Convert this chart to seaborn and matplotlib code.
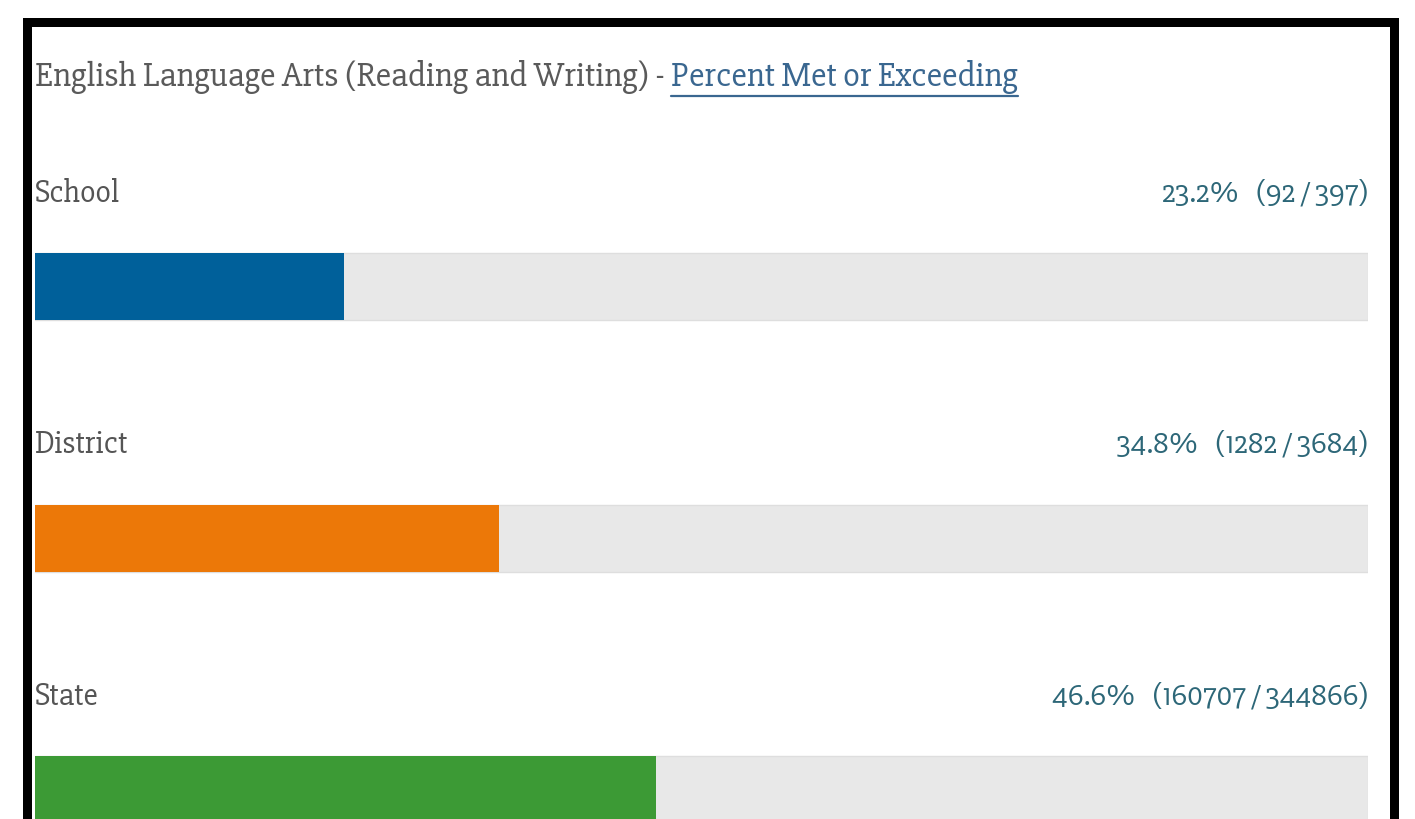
import matplotlib
matplotlib.use("Agg")
import matplotlib.pyplot as plt
from matplotlib.lines import Line2D
import seaborn as sns

# data
groups = ["School", "District", "State"]
percent = [23.2, 34.8, 46.6]
met = [92, 1282, 160707]
tested = [397, 3684, 344866]
bar_colors = ["#00609a", "#ec7808", "#3c9a35"]

title_main = "English Language Arts (Reading and Writing) - "
title_link = "Percent Met or Exceeding"

sns.set_theme(style="white")
plt.rcParams["font.family"] = ["Slabo 27px", "DejaVu Serif"]

W, H = 1415, 820
fig = plt.figure(figsize=(W / 100, H / 100), dpi=100)
ax = fig.add_axes([35 / W, 0, (1368 - 35) / W, 1])

# grey track behind each bar, then the value bars
sns.barplot(x=[100] * len(groups), y=groups, orient="h", color="#e8e8e8",
            edgecolor="#dedede", linewidth=1, width=0.267, ax=ax)
sns.barplot(x=percent, y=groups, hue=groups, palette=bar_colors, orient="h",
            legend=False, width=0.267, saturation=1, linewidth=0, ax=ax)

ax.set_xlim(0, 100)
ax.set_ylim(2.115, -1.143)
ax.axis("off")

for i, g in enumerate(groups):
    ax.text(0, i - 0.375, g, ha="left", va="center", fontsize=23, color="#555555")
    ax.text(100, i - 0.375, f"{percent[i]:.1f}%   ({met[i]} / {tested[i]})",
            ha="right", va="center", fontsize=22, color="#2d6778")

# title with underlined link part
ty = 1 - 77 / H
t1 = fig.text(35 / W, ty, title_main, ha="left", va="center", fontsize=25, color="#5a5a5a")
r = fig.canvas.get_renderer()
x1 = t1.get_window_extent(r).x1
t2 = fig.text(x1 / W, ty, title_link, ha="left", va="center", fontsize=25, color="#3a6790")
bb = t2.get_window_extent(r)
uy = 1 - 97 / H
fig.add_artist(Line2D([bb.x0 / W, bb.x1 / W], [uy, uy], transform=fig.transFigure,
                      color="#3a6790", linewidth=1.6))

# black frame (left, top, right)
lw = 9 * 72 / 100
fx0, fx1, fy = 27 / W, 1394 / W, 1 - 22.5 / H
fig.add_artist(Line2D([fx0, fx0, fx1, fx1], [0, fy, fy, 0], transform=fig.transFigure,
                      color="black", linewidth=lw, solid_joinstyle="miter"))

fig.savefig("out.png", dpi=100)
